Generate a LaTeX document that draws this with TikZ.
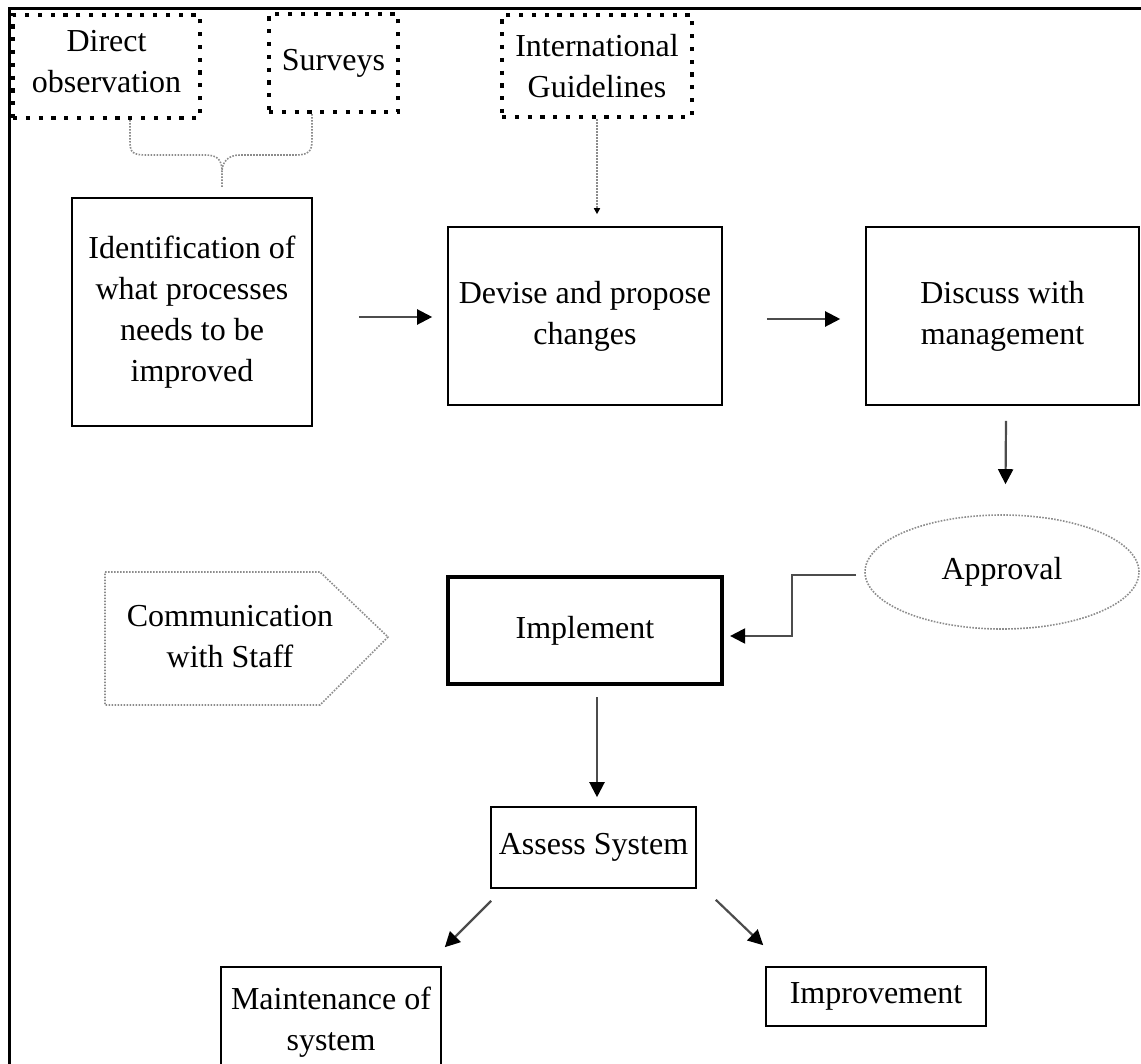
\documentclass[tikz,border=0pt]{standalone}
\usepackage{fontspec}
\setmainfont{Liberation Serif}
\usetikzlibrary{arrows.meta,calc,shapes.geometric}
\begin{document}
\begin{tikzpicture}[x=1pt,y=-1pt,
  lbl/.style={font=\fontsize{32}{41}\selectfont, align=center, inner sep=0pt},
  srcbox/.style={lbl, draw=black, line width=4.2pt, dash pattern=on 4.2pt off 8.6pt},
  stepbox/.style={lbl, draw=black, line width=1.6pt},
  heavybox/.style={lbl, draw=black, line width=4.2pt},
  soft/.style={draw=black!45, line width=1.6pt, dash pattern=on 1.6pt off 1.4pt},
  arr/.style={draw=black!70, line width=2.2pt, -{Triangle[length=15pt,width=15pt,color=black]}},
  thinarr/.style={draw=black!45, line width=1.6pt, dash pattern=on 1.6pt off 1.4pt,
    -{Triangle[length=6pt,width=6pt,color=black]}}
]
\useasboundingbox (0,0) rectangle (1141,1064);

% outer frame
\draw[line width=3pt] (9,1070) -- (9,9) -- (1145,9);

% information sources
\node[srcbox, minimum width=187pt, minimum height=103pt, text depth=10pt] (dobs) at (106.5,66.5) {Direct\\observation};
\node[srcbox, minimum width=129pt, minimum height=98pt] (surv) at (333.5,63) {Surveys};
\node[srcbox, minimum width=190pt, minimum height=102pt] (intl) at (597,66) {International\\Guidelines};

% process steps
\node[stepbox, minimum width=240pt, minimum height=228pt] (ident) at (192,312) {Identification of\\what processes\\needs to be\\improved};
\node[stepbox, minimum width=274pt, minimum height=178pt] (devise) at (585,316) {Devise and propose\\changes};
\node[stepbox, minimum width=273pt, minimum height=178pt] (discuss) at (1002.5,316) {Discuss with\\management};
\node[lbl, ellipse, soft, minimum width=274pt, minimum height=114pt] (approval) at (1002,572) {Approval};
\node[heavybox, minimum width=274pt, minimum height=107pt] (implement) at (585,630.5) {Implement};
\node[lbl] (comm) at (230,637) {Communication\\with Staff};
\node[stepbox, minimum width=205pt, minimum height=81pt] (assess) at (593.5,847.5) {Assess System};
\node[stepbox, minimum width=220pt, minimum height=110pt] (maint) at (331,1022) {Maintenance of\\system};
\node[stepbox, minimum width=220pt, minimum height=59pt] (improve) at (876,996.5) {Improvement};

% pentagon around the staff note
\draw[soft] (105,572) -- (320,572) -- (388,637) -- (320,705) -- (105,705) -- cycle;

% brace joining the two observation sources
\coordinate (bl) at ($(dobs.south)+(23.5,0)$);
\coordinate (br) at ($(surv.south)+(-21.5,0)$);
\coordinate (bm) at (222,172);
\coordinate (bt) at ($(ident.north)+(30,-10)$);
\draw[soft] (bl) -- ++(0,20) .. controls (130,153) and (132,155) .. (148,155) -- (205,155)
  .. controls (218,155) and (222,160) .. (bm) -- (bt);
\draw[soft] (br) -- ++(0,26) .. controls (312,152) and (308,155) .. (295,155) -- (240,155)
  .. controls (228,155) and (222,162) .. (bm);

% guidelines feed the proposal
\draw[thinarr] (intl.south) -- ($(devise.north)+(12,-12)$);

% main flow
\draw[arr] ($(ident.east)+(46,5)$) -- ($(devise.west)+(-15,1)$);
\draw[arr] ($(devise.east)+(44,3)$) -- ($(discuss.west)+(-25,3)$);
\draw[arr] ($(discuss.south)+(3.5,15)$) -- ($(approval.north)+(3.5,-30)$);
\draw[arr] ($(approval.west)+(-8,3)$) -- ++(-64,0) |- ($(implement.east)+(6,5.5)$);
\draw[arr] ($(implement.south)+(12,11)$) -- ($(assess.north)+(3.5,-9)$);
\draw[arr] ($(assess.south west)+(1,12)$) -- ($(maint.north east)+(3,-19)$);
\draw[arr] ($(assess.south east)+(19,11)$) -- ($(improve.north west)+(-2,-21)$);
\end{tikzpicture}
\end{document}
